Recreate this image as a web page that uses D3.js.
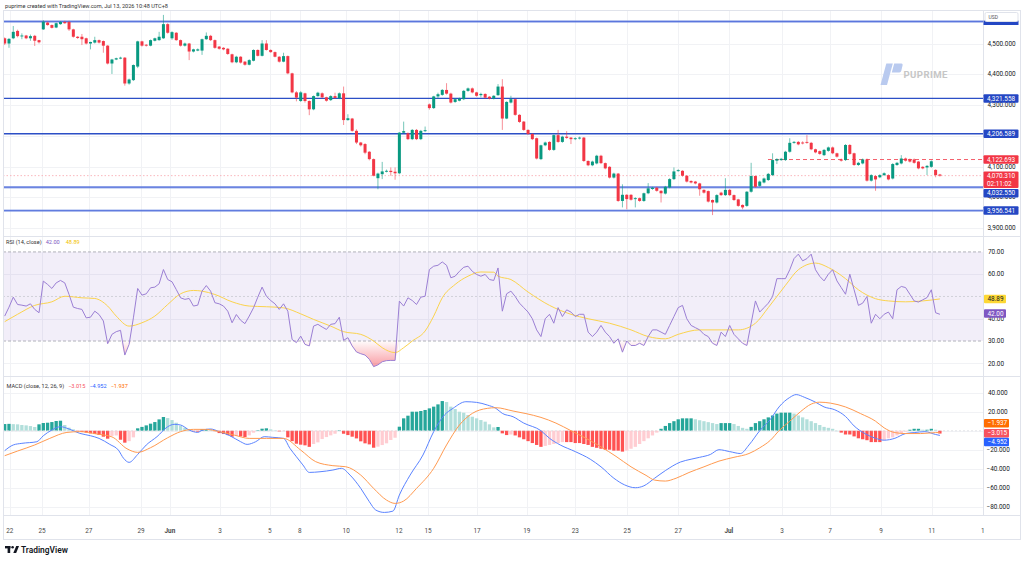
<!DOCTYPE html>
<html>
<head>
<meta charset="utf-8">
<script src="https://cdn.jsdelivr.net/npm/d3@7"></script>
<style>
  html, body { margin: 0; padding: 0; background: #fff; }
  svg { display: block; font-family: Roboto, "Liberation Sans", sans-serif; }
</style>
</head>
<body>
<svg id="chart" width="1024" height="562"></svg>
<script>
// 4H candles, [open, high, low, close]
const candles = [
  [4517,4520,4495,4500],[4500,4518,4486,4515],[4517,4557,4514,4538],[4541,4545,4520,4524],[4524,4533,4514,4526],
  [4526,4528,4514,4517],[4517,4529,4509,4524],[4525,4528,4492,4509],[4511,4512,4500,4504],[4546,4576,4544,4571],
  [4568,4571,4558,4560],[4560,4562,4549,4551],[4552,4568,4550,4566],[4563,4573,4561,4570],[4570,4574,4564,4566],
  [4570,4574,4541,4546],[4546,4548,4519,4522],[4522,4524,4515,4518],[4522,4531,4495,4514],[4517,4519,4497,4500],
  [4500,4506,4481,4505],[4503,4522,4500,4511],[4511,4513,4500,4503],[4508,4510,4470,4493],[4493,4495,4432,4435],
  [4435,4450,4401,4448],[4448,4454,4446,4452],[4451,4457,4449,4454],[4454,4456,4363,4370],[4370,4386,4366,4383],
  [4381,4432,4378,4430],[4425,4509,4420,4507],[4507,4509,4490,4493],[4496,4498,4490,4493],[4493,4513,4491,4511],
  [4509,4519,4507,4517],[4511,4538,4509,4522],[4517,4593,4515,4563],[4563,4566,4532,4535],[4517,4540,4512,4537],
  [4535,4537,4509,4511],[4511,4513,4490,4493],[4493,4503,4490,4500],[4500,4502,4446,4474],[4474,4483,4471,4481],
  [4477,4484,4475,4481],[4477,4516,4463,4514],[4514,4536,4512,4525],[4525,4528,4508,4511],[4511,4513,4483,4486],
  [4490,4492,4480,4483],[4486,4488,4478,4481],[4483,4485,4463,4466],[4465,4467,4436,4439],[4439,4460,4436,4457],
  [4457,4459,4435,4438],[4441,4443,4428,4431],[4431,4449,4429,4446],[4444,4481,4442,4479],[4479,4481,4458,4460],
  [4460,4511,4458,4500],[4500,4511,4477,4479],[4479,4481,4470,4472],[4472,4474,4455,4457],[4457,4459,4438,4441],
  [4441,4470,4439,4459],[4459,4461,4400,4403],[4403,4405,4338,4341],[4341,4345,4312,4324],[4313,4345,4310,4341],
  [4338,4340,4308,4313],[4313,4315,4267,4286],[4286,4331,4283,4329],[4329,4343,4327,4340],[4338,4341,4322,4325],
  [4325,4327,4311,4314],[4316,4332,4313,4329],[4329,4340,4320,4323],[4322,4341,4319,4338],[4338,4360,4235,4251],
  [4251,4270,4249,4257],[4256,4258,4213,4216],[4216,4221,4173,4178],[4178,4180,4165,4169],[4173,4176,4140,4145],
  [4148,4150,4120,4124],[4124,4126,4068,4070],[4062,4080,4026,4077],[4075,4115,4059,4084],[4084,4090,4081,4086],
  [4086,4097,4070,4082],[4083,4097,4057,4078],[4078,4212,4075,4210],[4210,4246,4207,4215],[4208,4211,4186,4189],
  [4189,4222,4186,4219],[4219,4222,4186,4189],[4189,4219,4186,4216],[4216,4230,4212,4218],[4302,4305,4285,4290],
  [4290,4330,4287,4328],[4328,4340,4320,4335],[4333,4352,4330,4349],[4349,4371,4334,4337],[4337,4340,4305,4308],
  [4310,4322,4307,4319],[4314,4324,4312,4321],[4319,4349,4316,4346],[4346,4357,4343,4354],[4354,4357,4338,4341],
  [4341,4343,4327,4330],[4332,4340,4325,4336],[4336,4338,4321,4324],[4327,4329,4318,4321],[4321,4332,4318,4330],
  [4332,4368,4330,4360],[4360,4384,4219,4256],[4256,4312,4254,4310],[4308,4330,4305,4319],[4319,4321,4265,4268],
  [4268,4270,4242,4245],[4246,4248,4216,4219],[4219,4221,4203,4206],[4206,4208,4186,4189],[4192,4194,4123,4126],
  [4124,4171,4121,4169],[4169,4181,4166,4178],[4180,4182,4151,4154],[4154,4204,4151,4202],[4202,4219,4177,4180],
  [4180,4200,4177,4197],[4197,4215,4190,4193],[4194,4196,4173,4189],[4189,4195,4186,4192],[4191,4197,4188,4194],
  [4194,4196,4115,4118],[4118,4120,4101,4104],[4104,4119,4101,4116],[4110,4138,4107,4135],[4135,4138,4108,4111],
  [4111,4113,4091,4094],[4099,4101,4061,4064],[4064,4080,4061,4077],[4077,4079,3985,3988],[3988,4042,3967,4008],
  [4008,4010,3961,3994],[4008,4010,3989,3992],[3994,4000,3967,3997],[3997,3999,3985,3988],[3988,4015,3985,4013],
  [4013,4046,4010,4029],[4027,4034,4024,4031],[4031,4034,4018,4021],[4021,4023,3983,4013],[4012,4037,4009,4034],
  [4032,4062,4029,4059],[4059,4097,4056,4084],[4086,4091,4083,4088],[4086,4088,4067,4070],[4070,4072,4048,4051],
  [4053,4055,4045,4048],[4051,4053,4042,4045],[4045,4047,4005,4026],[4024,4026,4012,4015],[4020,4022,3983,3986],
  [3991,3993,3942,3983],[3983,4010,3980,4007],[4015,4018,4004,4007],[4007,4062,4004,4024],[4024,4027,4004,4007],
  [4007,4009,3988,3991],[3993,3995,3969,3972],[3975,3977,3961,3967],[3972,4020,3969,4018],[4018,4112,4015,4069],
  [4069,4071,4031,4034],[4037,4054,4034,4051],[4048,4064,4045,4061],[4056,4079,4053,4076],[4072,4143,4069,4121],
  [4119,4127,4108,4124],[4121,4128,4118,4125],[4121,4151,4118,4148],[4148,4192,4145,4177],[4177,4183,4174,4180],
  [4180,4183,4169,4172],[4178,4182,4172,4175],[4180,4202,4174,4177],[4177,4180,4153,4156],[4156,4158,4143,4146],
  [4150,4152,4138,4141],[4137,4157,4134,4154],[4151,4165,4148,4162],[4162,4165,4140,4143],[4143,4145,4129,4132],
  [4123,4126,4116,4119],[4121,4173,4118,4170],[4170,4173,4138,4141],[4143,4145,4102,4105],[4105,4115,4102,4112],
  [4110,4126,4107,4123],[4123,4126,4051,4054],[4054,4075,4051,4072],[4069,4072,4021,4058],[4065,4075,4062,4072],
  [4072,4081,4069,4078],[4072,4075,4055,4058],[4061,4111,4058,4108],[4105,4115,4102,4112],[4110,4137,4107,4126],
  [4126,4129,4116,4119],[4123,4126,4113,4116],[4123,4126,4109,4112],[4116,4118,4091,4094],[4099,4101,4091,4094],
  [4097,4105,4072,4102],[4099,4120,4096,4117],[4089,4091,4065,4072],[4074,4076,4067,4070.31]
];

const rsi = [
  41.2,45.2,49.7,46.4,46.1,45.7,46.7,44.2,42.7,56.9,55.4,53.6,56.1,57.2,56.1,50.9,45.2,44.6,44.2,
  40.4,40.7,43.4,41.9,39.0,28.8,33.0,34.2,34.8,23.7,28.5,40.4,53.6,50.6,51.2,53.9,54.2,55.7,62.1,57.6,
  56.6,53.1,49.4,48.7,49.1,45.7,46.1,52.4,54.9,52.4,47.2,46.7,45.7,43.4,38.2,41.9,39.3,37.8,41.2,44.9,
  49.7,54.2,50.1,48.2,46.7,44.2,46.7,43.4,30.7,29.3,32.2,28.5,27.8,36.7,37.5,36.3,35.2,37.5,37.8,40.7,
  30.3,31.5,27.8,25.1,24.3,23.7,21.8,18.5,19.3,20.7,21.2,21.3,21.3,47.9,45.7,49.4,48.2,46.4,49.7,50.1,
  62.1,63.6,64.0,65.5,64.0,58.4,59.1,61.3,63.1,63.6,61.3,59.9,59.1,59.9,57.6,57.2,62.8,43.4,51.2,52.4,
  50,47,45,43,40,35,32,40,42,38,
  45,41,44,43,41,42,42,34,32,34,
  37,34,32,29,31,25,30,28,28,29,
  28,32,35,35,34,33,37,41,45,46,
  40,37,36,35,33,32,29,28,34,32,
  37,33,31,29,28,38,48,43,45,47,
  50,58,58,58,62,67,69,66,67,69,
  62,59,57,60,62,57,54,51,60,53,
  46,47,50,38,42,40,42,43,40,53,
  54.5,54,51,48,47.5,48.5,49.5,53,42.7,42.0
];

// [candle index, value]
const rsiMa = [
  [0,38.7],[3,42],[7,46],[11,47.6],[14,50.1],[18,49.4],[21,49.1],[24,45.7],[26,41.2],[29,36.7],[32,38.2],
  [35,41.2],[38,46.4],[41,51.2],[44,52.7],[46,52.4],[49,50.9],[53,47.6],[57,45.7],[61,45.4],[65,44.9],
  [69,42.2],[72,39.7],[76,36.7],[79,34.2],[83,33],[86,30],[88,27],[91,24.8],[93,27],[95,30],[98,34.5],
  [100,41.2],[102,49.4],[105,55.4],[108,59.1],[111,61],[114,60.9],[115,59.1],[118,57.6],[122,52],[127,46],
  [132,42],[136,40],[141,38],[146,35],[150,32],[154,31],[157,33],[162,35],[167,35],[171,35],[175,38],
  [178,45],[182,55],[185,62],[189,65],[192,63],[196,58],[199,53],[203,49],[206,48],[210,47.6],[214,48],[218,48.89]
];

const macd = [
  [0,-21],[2,-15],[4,-13.3],[7.5,-11.6],[9,-5.3],[11,0.7],[13,4.2],[15,1.8],[17.5,-2.8],[20,-5.3],[22,-8.1],
  [24.5,-14.4],[26.5,-20.4],[27.7,-29],[29,-33.3],[31,-25],[33,-15],[35.5,-6.3],[38,4.2],[39.5,6.7],[41,6],
  [43,0.7],[45,-1.8],[46,0.4],[48,1.8],[50,-1],[52.5,-5.3],[55,-11.6],[56.5,-14.4],[58.5,-11.6],[60.5,-6.3],
  [62.5,-7],[65,-8.1],[66.5,-18.6],[68,-27.4],[69.5,-36],[71,-43.9],[73.5,-43.2],[76.5,-41.4],[78.5,-39.6],
  [80.5,-46.7],[83,-60.7],[85,-74.7],[86.5,-83.5],[88.5,-86],[90.5,-84.6],[92,-67.7],[94.5,-46.7],[97.5,-25.6],
  [100,-1],[102.5,16.5],[104.5,23.5],[107.5,30.5],[110,29.8],[112.5,27],[114.5,23.5],[116,18.2],[118.5,14.7],
  [121,8],[125,0],[127,-8],[129.5,-15],[133,-22],[136.5,-30],[139,-38],[142,-50],[144.5,-57],[147,-60],
  [149,-58],[151.5,-50],[154,-42],[157.5,-33],[160,-30],[162,-28],[164.5,-25],[166.5,-20],[169,-22],[171.5,-24],
  [173.5,-15],[176,0],[178.5,12],[180.5,25],[183,35],[184.5,38],[186.5,35],[189,30],[191,25],[193.5,22],
  [196,15],[198,5],[200.5,-3],[203,-8],[205,-10],[207.5,-8],[210,-3],[212,-2],[214.5,-1],[217,-4],[218,-4.952]
];

const signal = [
  [0,-26.3],[3,-21.4],[7,-15],[10.5,-8.1],[14.5,-1.8],[17.5,-1],[21.5,-3.5],[25,-6.5],[28.5,-19],[31,-22.8],
  [34,-17.9],[38,-7.4],[41,-1],[44,1.4],[47,1.4],[50,-1],[53.5,-4.6],[57,-8.1],[61,-8.1],[65,-8.1],[69,-20.4],
  [72.5,-32.6],[76.5,-36.8],[79.5,-37.9],[83,-46.7],[86,-60.7],[89,-73],[91,-76.5],[93,-74],[96,-60.7],
  [100,-39.6],[103,-15],[106,6],[109,18.2],[112.5,23.5],[114.5,24.2],[118.5,20.7],[121.5,18],[125,14],
  [128.5,8],[132,0],[135.5,-8],[139,-17],[142.5,-27],[146,-38],[149.5,-47],[151.5,-52],[154,-53],[156.5,-50],
  [159.5,-44],[163,-38],[166.5,-32],[170,-28],[173.5,-24],[176,-18],[178.5,-10],[180.5,0],[183,10],[185.5,20],
  [188,28],[190,30],[192.5,29],[196,25],[199.5,18],[203,10],[205,3],[207.5,-2],[210,-3],[213.5,-3],[217,-2],[218,-1.937]
];

const hist = [
  7.0,7.2,6.9,6.7,6.0,5.6,4.9,3.9,6.7,8.1,8.4,9.1,10.2,10.5,
  6.0,3.2,1.4,
  -0.5,-1.2,-2,-2.8,-3.5,-4.5,-6.3,-8.4,-5.5,-5,-9.5,-12.6,-11,-7,
  2.5,4,5.6,7.4,9.1,11.9,14.4,13.3,11.2,8.4,5.3,3.2,1.4,
  -0.7,-1.0,1.5,1.8,1.4,-0.5,-2.5,-3.5,-4.6,-6.3,-5.6,-6.0,-6.7,-4.9,-2.1,
  0.5,2.1,2.5,1.4,0.3,-0.7,-0.5,
  -7,-11,-13.7,-14.7,-15.4,-17,-14,-12.3,-8.8,-6.7,-4.9,-3.2,0.5,
  -3.2,-4.6,-6.3,-8.1,-11.2,-13.3,-14.4,-17.9,-16.8,-15.1,-13.3,-9.8,-7.4,
  4.2,13,15.8,20,20,20.7,21.8,23.5,25.3,27.7,31.2,30.2,25.3,22.8,20,18.9,16.5,14.7,13,11.2,9.5,6.7,3.5,3.9,-2.8,-4.6,-4,
  -5,-7,-9,-11,-13,-15,-17,-16,-15,-14,
  -13,-12,-12,-12,-13,-13,-14,-15,-17,-18,
  -19,-20,-20,-21,-21,-22,-21,-19,-17,-14,
  -11,-8,-5,-2,2,5,8,10,12,13,
  13,13,12,11,10,9,8,7,8,8,
  8,7,5,3,2,4,8,10,12,14,
  16,18,19,19,19,18,16,14,12,10,
  8,6,4,3,2,0,-2,-4,-4,-6,
  -8,-9,-10,-12,-12,-12,-10,-8,-7,-5,
  -3,-1,1,2,2,1,1,2,1,-3.015
];

const dateTickIdx = [1.2,8.7,19.6,31.8,38.5,50.2,61.8,68.8,79.6,91.9,98.7,110.1,121.7,133,145.1,157,168.8,181.2,192.4,204.3,216.1,228];
const dateTickLabels = ["22","25","27","29","Jun","3","5","8","10","12","15","17","19","23","25","27","Jul","3","7","9","11","1"];
const priceTicks = [3900,4000,4100,4200,4300,4400,4500];
const priceTickShown = [3900,4000,4100,4300,4400,4500];
const rsiTicks = [20,30,40,50,60,70];
const rsiTickShown = [20,30,40,60,70];
const macdTicks = [-80,-60,-40,-20,0,20,40];
const macdTickShown = [-80,-60,-40,-20,20,40];
const levelsStrong = [4321.558, 4206.589];
const levelsSoft = [4571.5, 4032.55, 3956.541];
const lastPrice = 4070.31;
const prevHigh = 4122.693;

// ---------------- layout ----------------
const plotL = 3, plotR = 983;
const pane = { price: [10, 236], rsi: [237, 376], macd: [377, 515] };
const up = "#089981", down = "#f23645";

const svg = d3.select("#chart");

const x = d3.scaleLinear().domain([0, candles.length - 1]).range([4.7, 939.9]);
const yP = d3.scaleLinear().domain([3874, 4609]).range([pane.price[1], pane.price[0]]);
const yR = d3.scaleLinear().domain([14.3, 76.7]).range([pane.rsi[1], pane.rsi[0]]);
const yM = d3.scaleLinear().domain([-88.7, 56.5]).range([pane.macd[1], pane.macd[0]]);

svg.append("rect").attr("width", 1024).attr("height", 562).attr("fill", "#fff");

// header
svg.append("text").attr("x", 5).attr("y", 8).attr("font-size", 5.6).attr("fill", "#333")
  .text("puprime created with TradingView.com, Jul 13, 2026 10:48 UTC+8");

// grid
const grid = svg.append("g").attr("stroke", "#f1f2f5").attr("stroke-width", 1);
dateTickIdx.forEach(d => {
  const xx = Math.round(x(d)) + 0.5;
  if (xx < plotR) grid.append("line").attr("x1", xx).attr("x2", xx).attr("y1", pane.price[0]).attr("y2", pane.macd[1]);
});
priceTicks.forEach(v => grid.append("line").attr("x1", plotL).attr("x2", plotR)
  .attr("y1", Math.round(yP(v)) + 0.5).attr("y2", Math.round(yP(v)) + 0.5));
[20, 40, 60].forEach(v => grid.append("line").attr("x1", plotL).attr("x2", plotR)
  .attr("y1", Math.round(yR(v)) + 0.5).attr("y2", Math.round(yR(v)) + 0.5));
macdTicks.forEach(v => grid.append("line").attr("x1", plotL).attr("x2", plotR)
  .attr("y1", Math.round(yM(v)) + 0.5).attr("y2", Math.round(yM(v)) + 0.5));

// ---------------- price pane ----------------
const levelG = svg.append("g");
levelsSoft.forEach(v => {
  levelG.append("line").attr("x1", plotL).attr("x2", plotR).attr("y1", yP(v)).attr("y2", yP(v))
    .attr("stroke", "#7f97e6").attr("stroke-width", 2.4).attr("opacity", 0.75);
  levelG.append("line").attr("x1", plotL).attr("x2", plotR).attr("y1", yP(v)).attr("y2", yP(v))
    .attr("stroke", "#4766d8").attr("stroke-width", 0.8);
});
levelsStrong.forEach(v => {
  levelG.append("line").attr("x1", plotL).attr("x2", plotR).attr("y1", yP(v)).attr("y2", yP(v))
    .attr("stroke", "#2c4fc6").attr("stroke-width", 1.3);
});
levelG.append("line").attr("x1", plotL).attr("x2", plotR).attr("y1", yP(lastPrice)).attr("y2", yP(lastPrice))
  .attr("stroke", "#f7a6ad").attr("stroke-width", 0.8).attr("stroke-dasharray", "1.5,2");
levelG.append("line").attr("x1", 768).attr("x2", plotR).attr("y1", yP(prevHigh)).attr("y2", yP(prevHigh))
  .attr("stroke", "#f4606c").attr("stroke-width", 1).attr("stroke-dasharray", "4,3");

// watermark
const wm = svg.append("g");
wm.append("path").attr("d", "M880.5,85 L887,85 L892.8,63.5 L886.3,63.5 Z").attr("fill", "#b9caef");
wm.append("path").attr("d", "M894.2,63.5 L901.5,63.5 Q903,63.5 902.6,65.2 L901.3,70.8 Q900.9,72.5 899.3,72.5 L891.8,72.5 Z")
  .attr("fill", "#b9caef");
wm.append("text").attr("x", 903.5).attr("y", 77.6).attr("font-size", 9.6).attr("font-weight", 700)
  .attr("fill", "#c6c6c6").attr("letter-spacing", 0.4).text("PUPRIME");

// candles
const cg = svg.append("g");
candles.forEach((d, i) => {
  const [o, h, l, c] = d;
  const col = c >= o ? up : down;
  const cx = x(i);
  cg.append("line").attr("x1", cx).attr("x2", cx).attr("y1", yP(h)).attr("y2", yP(l))
    .attr("stroke", col).attr("stroke-width", 1).attr("opacity", 0.55);
  const top = yP(Math.max(o, c)), bot = yP(Math.min(o, c));
  cg.append("rect").attr("x", cx - 1.5).attr("y", top).attr("width", 3).attr("height", Math.max(0.9, bot - top))
    .attr("fill", col);
});

// ---------------- RSI pane ----------------
const rg = svg.append("g");
rg.append("rect").attr("x", plotL).attr("width", plotR - plotL).attr("y", yR(70)).attr("height", yR(30) - yR(70))
  .attr("fill", "rgba(126,87,194,0.1)");
[70, 30].forEach(v => rg.append("line").attr("x1", plotL).attr("x2", plotR).attr("y1", yR(v)).attr("y2", yR(v))
  .attr("stroke", "#a9aab2").attr("stroke-dasharray", "3,2").attr("stroke-width", 0.9));
rg.append("line").attr("x1", plotL).attr("x2", plotR).attr("y1", yR(50)).attr("y2", yR(50))
  .attr("stroke", "#c9cad0").attr("stroke-dasharray", "2,2").attr("stroke-width", 0.8);

const defs = svg.append("defs");
const osGrad = defs.append("linearGradient").attr("id", "osGrad").attr("gradientUnits", "userSpaceOnUse")
  .attr("x1", 0).attr("x2", 0).attr("y1", yR(30)).attr("y2", yR(17));
osGrad.append("stop").attr("offset", 0).attr("stop-color", "#f23645").attr("stop-opacity", 0.02);
osGrad.append("stop").attr("offset", 1).attr("stop-color", "#f23645").attr("stop-opacity", 0.55);
const obGrad = defs.append("linearGradient").attr("id", "obGrad").attr("gradientUnits", "userSpaceOnUse")
  .attr("x1", 0).attr("x2", 0).attr("y1", yR(70)).attr("y2", yR(80));
obGrad.append("stop").attr("offset", 0).attr("stop-color", "#089981").attr("stop-opacity", 0.02);
obGrad.append("stop").attr("offset", 1).attr("stop-color", "#089981").attr("stop-opacity", 0.5);

rg.append("path").datum(rsi)
  .attr("d", d3.area().x((d, i) => x(i)).y0(yR(30)).y1(d => yR(Math.min(d, 30))))
  .attr("fill", "url(#osGrad)");
rg.append("path").datum(rsi)
  .attr("d", d3.area().x((d, i) => x(i)).y0(yR(70)).y1(d => yR(Math.max(d, 70))))
  .attr("fill", "url(#obGrad)");

rg.append("path").datum(rsiMa)
  .attr("d", d3.line().x(d => x(d[0])).y(d => yR(d[1])).curve(d3.curveMonotoneX))
  .attr("fill", "none").attr("stroke", "#fbd34d").attr("stroke-width", 1);
rg.append("path").datum(rsi)
  .attr("d", d3.line().x((d, i) => x(i)).y(d => yR(d)))
  .attr("fill", "none").attr("stroke", "#9b7fd4").attr("stroke-width", 1);

const rsiHead = svg.append("text").attr("x", 6).attr("y", 243.5).attr("font-size", 5.6).attr("fill", "#333");
rsiHead.append("tspan").text("RSI (14, close)");
rsiHead.append("tspan").attr("dx", 4).attr("fill", "#7e57c2").text("42.00");
rsiHead.append("tspan").attr("dx", 6).attr("fill", "#f2c200").text("48.89");

// ---------------- MACD pane ----------------
const mg = svg.append("g");
hist.forEach((v, i) => {
  const prev = i > 0 ? hist[i - 1] : v;
  let col;
  if (v >= 0) col = v >= prev ? "#26a69a" : "#b2dfdb";
  else col = v <= prev ? "#ff5252" : "#ffcdd2";
  const y0 = yM(0), y1 = yM(v);
  mg.append("rect").attr("x", x(i) - 1.65).attr("width", 3.3)
    .attr("y", Math.min(y0, y1)).attr("height", Math.max(0.5, Math.abs(y1 - y0))).attr("fill", col);
});
mg.append("line").attr("x1", plotL).attr("x2", plotR).attr("y1", yM(0)).attr("y2", yM(0))
  .attr("stroke", "#d5d6dc").attr("stroke-dasharray", "2,2").attr("stroke-width", 0.6);
mg.append("path").datum(macd)
  .attr("d", d3.line().x(d => x(d[0])).y(d => yM(d[1])).curve(d3.curveMonotoneX))
  .attr("fill", "none").attr("stroke", "#5a83ff").attr("stroke-width", 1);
mg.append("path").datum(signal)
  .attr("d", d3.line().x(d => x(d[0])).y(d => yM(d[1])).curve(d3.curveMonotoneX))
  .attr("fill", "none").attr("stroke", "#ff9a50").attr("stroke-width", 1);

const macdHead = svg.append("text").attr("x", 6.5).attr("y", 387.5).attr("font-size", 5.6).attr("fill", "#333");
macdHead.append("tspan").text("MACD (close, 12, 26, 9)");
macdHead.append("tspan").attr("dx", 4).attr("fill", "#f7525f").text("\u22123.015");
macdHead.append("tspan").attr("dx", 4).attr("fill", "#2962ff").text("\u22124.952");
macdHead.append("tspan").attr("dx", 4).attr("fill", "#ff6d00").text("\u22121.937");

// ---------------- frame ----------------
const fr = svg.append("g").attr("stroke", "#e0e3eb").attr("stroke-width", 1).attr("fill", "none");
fr.append("rect").attr("x", plotL + 0.5).attr("y", 10.5).attr("width", 1020 - plotL).attr("height", 529);
fr.append("line").attr("x1", plotR + 0.5).attr("x2", plotR + 0.5).attr("y1", 10).attr("y2", 515);
[pane.price[1], pane.rsi[1], pane.macd[1]].forEach(v =>
  fr.append("line").attr("x1", plotL).attr("x2", 1020.5).attr("y1", v + 0.5).attr("y2", v + 0.5));

// ---------------- right axis ----------------
const ax = svg.append("g").attr("font-size", 6.4).attr("fill", "#131722");
const fmt3 = d3.format(",.3f");
priceTickShown.forEach(v => ax.append("text").attr("x", 987.5).attr("y", yP(v) + 2.2).text(fmt3(v)));
rsiTickShown.forEach(v => ax.append("text").attr("x", 988).attr("y", yR(v) + 2.2).text(v.toFixed(2)));
macdTickShown.forEach(v => ax.append("text").attr("x", v < 0 ? 986.5 : 988).attr("y", yM(v) + 2.2)
  .text((v < 0 ? "\u2212" : "") + Math.abs(v).toFixed(3)));

function tag(yc, lines, fill, x0, w, color) {
  const h = 8 * lines.length + 0.5;
  const g = svg.append("g");
  g.append("rect").attr("x", x0).attr("y", yc - 4.25).attr("width", w).attr("height", h)
    .attr("rx", 1).attr("fill", fill);
  lines.forEach((t, k) => g.append("text").attr("x", x0 + 3.5).attr("y", yc + 2.2 + k * 8)
    .attr("font-size", 6.4).attr("fill", color || "#fff").text(t));
}
const blue = "#2447c4";
tag(yP(levelsStrong[0]), ["4,321.558"], blue, 983.5, 35);
tag(yP(levelsStrong[1]), ["4,206.589"], blue, 983.5, 35);
tag(yP(prevHigh), ["4,122.693"], "#f23645", 983.5, 35);
tag(yP(lastPrice), ["4,070.310", "02:11:02"], "#f23645", 983.5, 35);
// pushed below the two-line price tag, as the reference does
tag(yP(lastPrice) + 17.6, ["4,032.550"], blue, 983.5, 35);
tag(yP(levelsSoft[2]), ["3,956.541"], blue, 983.5, 35);

// top level tag, partly under the currency box
svg.append("rect").attr("x", 983.5).attr("y", 20.5).attr("width", 35).attr("height", 4.5).attr("fill", blue);
svg.append("rect").attr("x", 985).attr("y", 12.5).attr("width", 33).attr("height", 9).attr("rx", 1.5)
  .attr("fill", "#fff").attr("stroke", "#e0e3eb");
svg.append("text").attr("x", 988.5).attr("y", 19).attr("font-size", 5).attr("fill", "#555").text("USD");

// RSI and MACD value tags (stacked so they do not cover each other)
tag(yR(48.89), ["48.89"], "#fdd835", 984, 22, "#131722");
tag(yR(42.0) - 0.8, ["42.00"], "#7e57c2", 984, 22);
tag(yM(0) - 7.5, ["\u22121.937"], "#ff6d00", 984, 25);
tag(yM(0) + 2.6, ["\u22123.015"], "#f7525f", 984, 25);
tag(yM(0) + 11.2, ["\u22124.952"], "#2962ff", 984, 25);

// ---------------- time axis ----------------
const tx = svg.append("g").attr("font-size", 6.4).attr("fill", "#4a4a4a").attr("text-anchor", "middle");
dateTickIdx.forEach((d, k) => {
  const lab = dateTickLabels[k];
  tx.append("text").attr("x", x(d)).attr("y", 533)
    .attr("font-weight", lab === "Jun" || lab === "Jul" ? 700 : 400).text(lab);
});

// TradingView mark
const tv = svg.append("g").attr("fill", "#131722");
tv.append("rect").attr("x", 5).attr("y", 546).attr("width", 5.5).attr("height", 2.4);
tv.append("rect").attr("x", 7.6).attr("y", 546).attr("width", 2.6).attr("height", 7);
tv.append("circle").attr("cx", 12.6).attr("cy", 547.3).attr("r", 1.3);
tv.append("path").attr("d", "M13.3,553 L16.2,546 L19,546 L16.2,553 Z");
tv.append("text").attr("x", 21).attr("y", 553).attr("font-size", 8.4).attr("font-weight", 600).text("TradingView");
</script>
</body>
</html>
